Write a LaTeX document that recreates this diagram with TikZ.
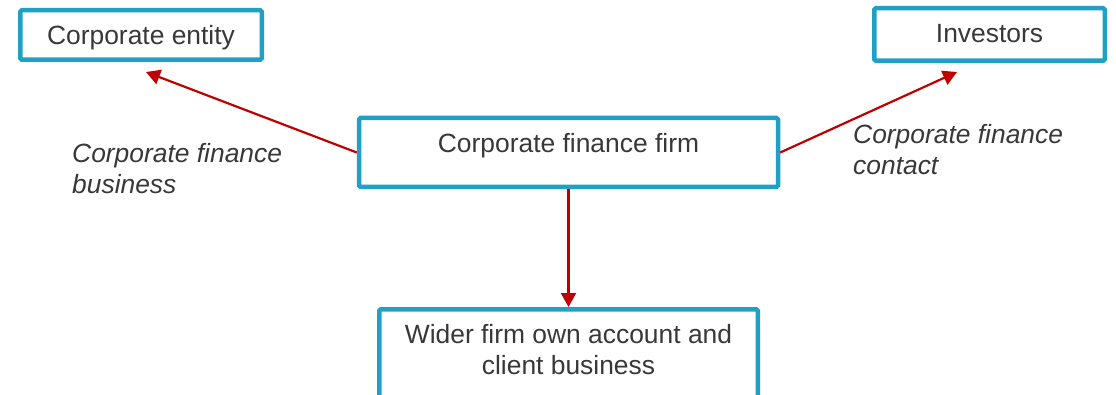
\documentclass[tikz,border=0pt]{standalone}
\usepackage{fontspec}
\setmainfont{Liberation Sans}
\usepackage{xcolor}
\usepackage{tikz}
\usetikzlibrary{arrows.meta,positioning}

\definecolor{boxblue}{RGB}{33,160,198}
\definecolor{flowred}{RGB}{192,0,0}
\definecolor{inkgray}{RGB}{56,56,56}

\begin{document}
\begin{tikzpicture}[x=1pt, y=1pt, node distance=117.75pt,
    every node/.style={font=\fontsize{26.4}{31.5}\selectfont, text=inkgray}]
    \tikzstyle{box} = [rectangle, draw=boxblue, line width=4.5pt, rounded corners=1.5pt,
        fill=white, inner xsep=0pt, inner ysep=0pt, align=center, text height=34.75pt]
    \tikzstyle{note} = [font=\fontsize{26.4}{31.5}\selectfont\itshape, align=left,
        anchor=base west, inner sep=0pt]
    \tikzstyle{flow} = [-{Triangle[length=14pt, width=15pt]}, line width=2.2pt, draw=flowred, fill=flowred]
    \useasboundingbox (0,0) rectangle (1116,394);

    \node (firm) [box, minimum width=419pt, text height=35pt, text depth=34pt] at (568.5,241.5) {Corporate finance firm};
    \node (ent) [box, minimum width=241.5pt, text depth=14.75pt] at (141,359) {Corporate entity};
    \node (inv) [box, minimum width=230.5pt, text depth=17.75pt] at (989.5,359.5) {Investors};
    % two lines: height runs up to the first line, baseline is the last one
    \node (wider) [box, below=of firm, minimum width=378.5pt, text height=65.25pt, text depth=35pt] {Wider firm own account and \\ client business};

    % arrow ends stop short of the top boxes
    \coordinate (entIn) at (146,322);
    \coordinate (invIn) at (957,322);

    \node (bizNote) [note] at (72,200) {Corporate finance \\ business};
    \node (contactNote) [note] at (853,219) {Corporate finance \\ contact};

    \draw [flow] (firm.west) -- (entIn);
    \draw [flow] (firm.east) -- (invIn);
    \draw [flow] (firm.south) -- (wider.north);
\end{tikzpicture}
\end{document}
